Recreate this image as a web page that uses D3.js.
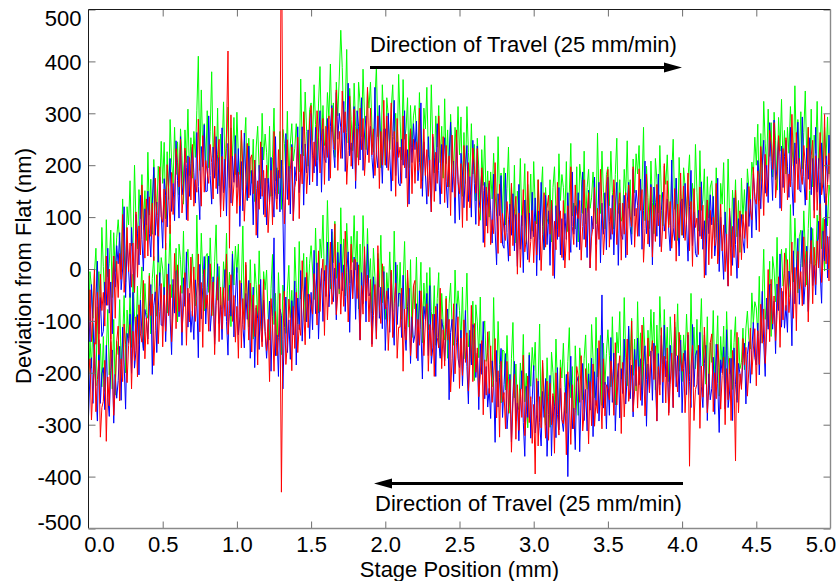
<!DOCTYPE html>
<html>
<head>
<meta charset="utf-8">
<script src="https://cdn.jsdelivr.net/npm/d3@7"></script>
<style>
  body { margin: 0; background: #fff; }
  svg text { font-family: "Liberation Sans", Arial, Helvetica, sans-serif; fill: #000; }
</style>
</head>
<body>
<svg id="chart" width="838" height="581"></svg>
<script>
// Surface profile scans: deviation from flat (nm), one sample every 0.01 mm of stage travel.
const sampleStep = 0.01;

const xTickMarks = [0.5, 1.0, 1.5, 2.0, 2.5, 3.0, 3.5, 4.0, 4.5];
const xTickLabels = [0.0, 0.5, 1.0, 1.5, 2.0, 2.5, 3.0, 3.5, 4.0, 4.5, 5.0];
const yTicks = [-500, -400, -300, -200, -100, 0, 100, 200, 300, 400, 500];

const xTitle = "Stage Position (mm)";
const yTitle = "Deviation from Flat (nm)";
const travelLabel = "Direction of Travel (25 mm/min)";

// Forward pass (upper traces), one row per 0.1 mm
const upperBlue = [
  -70,-140,-30,-105,-170,-60,15,-125,-55,-130,
  -120,-25,-70,40,-85,-25,-125,25,-35,45,
  10,70,-40,0,120,-55,55,0,-55,80,
  10,-45,105,69,8,142,57,-4,116,85,
  150,69,23,127,196,65,129,13,177,106,
  40,174,142,81,164,213,111,165,93,247,
  170,98,255,143,165,228,95,218,140,203,
  235,186,127,263,159,95,236,197,278,149,
  150,295,180,125,235,175,255,145,215,115,
  272,147,212,102,242,172,127,217,167,257,
  157,232,82,207,112,262,177,132,237,142,
  190,85,210,155,60,200,135,235,105,175,
  85,175,125,215,140,100,255,135,190,110,
  210,104,-60,261,134,198,106,240,93,197,
  170,274,147,191,274,123,241,185,268,162,
  300,218,185,273,160,253,305,148,270,213,
  205,290,170,275,315,230,195,340,250,300,
  273,213,323,188,263,358,218,243,193,313,
  155,305,275,210,330,190,260,295,220,240,
  275,215,175,350,220,195,315,235,165,270,
  270,195,300,220,150,255,325,180,245,165,
  160,250,200,305,175,230,125,270,205,280,
  230,285,170,205,320,140,245,185,125,255,
  170,110,255,215,150,280,190,125,240,205,
  253,168,118,218,283,148,208,88,248,173,
  95,223,185,118,195,238,130,178,100,248,
  165,86,237,118,134,190,51,167,83,139,
  165,112,50,183,75,8,145,103,180,47,
  40,185,70,15,125,65,145,35,105,5,
  163,38,103,-7,133,63,18,108,58,148,
  62,137,-13,112,17,167,82,37,142,47,
  112,7,132,77,-18,122,57,157,27,97,
  17,107,57,147,72,32,187,67,122,42,
  147,37,107,187,57,117,22,152,2,102,
  77,177,47,87,167,12,127,67,147,37,
  177,92,57,142,27,117,167,7,127,67,
  57,142,22,127,167,82,47,192,102,152,
  123,63,173,38,113,208,68,93,43,163,
  8,158,128,63,183,43,113,148,73,93,
  135,75,35,210,80,55,175,95,25,130,
  135,60,165,85,15,120,190,45,110,30,
  23,113,63,168,38,93,-12,133,68,143,
  85,140,25,60,175,-5,100,40,-20,110,
  27,-33,112,72,7,137,47,-18,97,62,
  105,56,31,111,166,82,134,60,182,140,
  75,209,177,116,199,248,146,200,128,282,
  207,132,287,172,192,252,117,237,157,217,
  248,198,138,273,168,103,243,203,283,153,
  148,293,178,123,233,173,253,143,213,113,
  273,148,213,103,243,173,128,218,168,258,
  200
];

const upperRed = [
  -140,-40,-140,-90,0,-145,-45,-165,-10,-80,
  -45,-110,25,-70,0,-135,-35,25,-95,15,
  -55,30,-20,105,-45,0,80,-5,50,-35,
  50,-45,110,-16,83,27,162,86,21,135,
  25,139,63,127,16,175,99,63,197,101,
  90,154,37,201,154,68,186,105,143,232,
  205,158,250,108,145,233,195,93,215,133,
  240,121,172,148,289,195,121,257,148,209,
  185,165,240,205,135,275,155,220,250,100,
  217,112,182,262,420,40,297,122,162,222,
  107,187,122,267,197,92,162,242,137,212,
  220,145,210,65,170,115,245,140,190,100,
  200,70,130,190,85,265,150,115,230,175,
  700,199,87,156,249,123,191,235,93,157,
  175,254,97,221,164,303,241,145,198,287,
  315,168,245,198,305,263,185,253,290,163,
  275,215,295,175,310,250,230,345,190,265,
  213,343,263,303,163,228,333,198,258,308,
  170,270,200,310,230,290,180,235,350,205,
  310,220,270,180,225,295,155,265,200,325,
  200,295,190,235,320,170,265,140,290,215,
  235,165,295,195,260,120,215,270,145,250,
  165,245,190,310,155,195,270,180,230,140,
  210,110,260,130,225,165,295,215,145,255,
  128,238,158,218,103,258,178,138,268,168,
  145,203,80,238,185,93,205,118,150,233,
  200,146,232,83,114,195,151,42,158,69,
  170,47,95,68,205,108,30,163,50,107,
  75,55,130,95,25,165,45,110,140,-10,
  108,3,73,153,33,58,188,13,53,113,
  12,92,27,172,102,-3,67,147,42,117,
  142,67,132,-13,92,37,167,62,112,22,
  132,2,62,122,17,197,82,47,162,107,
  97,132,17,82,172,42,107,147,2,62,
  82,157,-3,117,57,192,127,27,77,162,
  192,42,117,67,172,127,47,112,147,17,
  127,67,147,27,162,102,82,197,42,117,
  63,193,113,153,13,78,183,48,108,158,
  23,123,53,163,83,143,33,88,203,58,
  170,80,130,40,85,155,15,125,60,185,
  65,160,55,100,185,35,130,5,155,80,
  98,28,158,58,123,-17,78,133,8,113,
  20,100,45,165,10,50,125,35,85,-5,
  67,-33,117,-13,82,22,152,72,2,112,
  18,105,59,111,40,159,113,95,196,136,
  125,189,72,236,189,103,221,140,178,267,
  242,192,282,137,172,257,217,112,232,147,
  253,133,183,158,298,203,128,263,153,213,
  183,163,238,203,133,273,153,218,248,98,
  218,113,183,263,143,168,298,123,163,223,
  160
];

const upperGreen = [
  -140,-5,-35,-95,-10,40,-60,-5,-75,80,
  5,-65,95,-15,10,75,-55,70,-5,60,
  95,50,-5,135,35,-25,120,85,170,45,
  50,200,90,39,153,97,182,76,151,55,
  225,104,173,67,211,145,104,198,152,246,
  165,244,97,226,134,288,206,165,273,182,
  245,143,270,218,125,268,205,308,180,253,
  175,265,215,305,410,190,345,225,280,200,
  305,195,265,380,215,275,180,310,160,260,
  222,322,192,232,312,157,272,212,292,182,
  302,217,182,267,152,242,292,132,252,192,
  165,250,130,235,275,190,155,300,210,260,
  225,165,275,140,215,310,170,195,145,265,
  115,269,242,181,304,168,241,280,208,232,
  280,224,187,366,239,218,341,265,198,307,
  320,248,355,278,210,318,390,248,315,238,
  250,340,290,395,265,320,215,360,295,370,
  460,388,273,308,423,243,348,288,228,358,
  275,215,360,320,255,385,295,230,345,310,
  360,275,225,325,390,255,315,195,355,280,
  200,330,295,230,310,355,250,300,225,375,
  285,210,365,250,270,330,195,315,235,295,
  315,265,205,340,235,170,310,270,350,220,
  210,355,240,185,295,235,315,205,275,175,
  328,203,268,158,298,228,183,273,223,313,
  220,293,140,263,165,313,225,178,280,183,
  240,131,252,193,94,230,161,257,123,189,
  100,187,135,223,145,103,255,133,185,102,
  195,85,155,235,105,165,70,200,50,150,
  113,213,83,123,203,48,163,103,183,73,
  207,122,87,172,57,147,197,37,157,97,
  87,172,52,157,197,112,77,222,132,182,
  157,97,207,72,147,242,102,127,77,197,
  52,202,172,107,227,87,157,192,117,137,
  187,127,87,262,132,107,227,147,77,182,
  197,122,227,147,77,182,252,107,172,92,
  102,192,142,247,117,172,67,212,147,222,
  183,238,123,158,273,93,198,138,78,208,
  128,68,213,173,108,238,148,83,198,163,
  220,135,85,185,250,115,175,55,215,140,
  65,195,160,95,175,220,115,165,90,240,
  148,73,228,113,133,193,58,178,98,158,
  170,120,60,195,90,25,165,125,205,75,
  67,212,97,42,152,92,172,62,132,32,
  175,97,153,85,193,155,133,206,181,254,
  200,279,132,261,169,323,241,200,308,217,
  282,177,302,247,152,292,227,327,197,267,
  183,273,223,313,238,198,353,233,288,208,
  303,193,263,343,213,273,178,308,158,258,
  223,323,193,233,313,158,273,213,293,183,
  300
];

// Return pass (lower traces), one row per 0.1 mm
const lowerBlue = [
  -285,-203,-171,-259,-147,-240,-293,-136,-259,-202,
  -190,-271,-147,-248,-284,-195,-156,-297,-203,-249,
  -215,-149,-253,-112,-181,-270,-124,-143,-87,-201,
  -45,-191,-157,-88,-204,-60,-126,-157,-78,-94,
  -135,-73,-30,-203,-71,-44,-161,-79,-7,-108,
  -110,-35,-140,-60,10,-95,-165,-20,-85,-5,
  -2,-92,-42,-147,-17,-72,33,-112,-47,-122,
  -81,-136,-21,-56,-171,9,-96,-36,24,-106,
  -35,25,-120,-80,-15,-145,-55,10,-105,-70,
  -136,-51,-1,-101,-166,-31,-91,29,-131,-56,
  3,-127,-92,-27,-107,-152,-47,-97,-22,-172,
  -110,-35,-190,-75,-95,-155,-20,-140,-60,-120,
  -172,-122,-62,-197,-92,60,-167,-127,-207,-77,
  -90,-231,-113,-54,-161,-98,-174,-61,-127,-23,
  -185,-56,-117,-3,-139,-65,-16,-102,-48,-134,
  -45,-117,36,-86,12,-135,-47,1,-101,-3,
  -53,52,-73,-18,77,-63,2,-98,32,-38,
  48,-42,8,-82,-7,33,-122,-2,-57,23,
  -97,13,-57,-137,-7,-67,28,-102,48,-52,
  -45,-145,-15,-55,-135,20,-95,-35,-115,-5,
  -157,-72,-37,-122,-7,-97,-147,13,-107,-47,
  -47,-132,-12,-117,-157,-72,-37,-182,-92,-142,
  -127,-67,-177,-42,-117,-212,-72,-97,-47,-167,
  -32,-182,-152,-87,-207,-67,-137,-172,-97,-117,
  -177,-117,-77,-252,-122,-97,-217,-137,-67,-172,
  -190,-118,-225,-148,-80,-188,-260,-118,-185,-107,
  -115,-209,-162,-271,-144,-203,-101,-250,-188,-266,
  -230,-288,-177,-215,-334,-157,-266,-209,-153,-286,
  -223,-163,-308,-268,-203,-333,-243,-178,-293,-258,
  -331,-246,-196,-296,-361,-226,-286,-166,-326,-251,
  -186,-316,-281,-216,-296,-341,-236,-286,-211,-361,
  -280,-205,-360,-245,-265,-325,-190,-310,-230,-290,
  -313,-263,-203,-400,-233,-168,-308,-268,-348,-218,
  -207,-352,-237,-182,-292,-232,-312,-202,-272,-172,
  -323,-198,-263,-153,-293,-223,-50,-268,-218,-308,
  -207,-282,-132,-257,-162,-312,-227,-182,-287,-192,
  -240,-135,-260,-205,-110,-250,-185,-285,-155,-225,
  -133,-223,-173,-263,-188,-148,-303,-183,-238,-158,
  -253,-143,-213,-293,-163,-223,-128,-258,-108,-208,
  -177,-277,-147,-187,-267,-112,-227,-167,-247,-137,
  -277,-192,-157,-242,-127,-217,-267,-107,-227,-167,
  -157,-242,-122,-227,-267,-182,-147,-292,-202,-252,
  -230,-170,-280,-145,-220,-315,-175,-200,-150,-270,
  -117,-267,-237,-172,-292,-152,-222,-257,-182,-202,
  -225,-176,-143,-260,-164,-140,-220,-157,-103,-171,
  -185,-104,-204,-118,-43,-142,-207,-56,-116,-30,
  -30,-116,-62,-163,-29,-80,29,-112,-43,-114,
  -70,-122,-4,-36,-148,35,-67,-4,59,-68,
  10,74,-68,-24,44,-82,11,80,-32,7,
  -50,39,92,-4,-66,73,16,140,-17,62,
  60
];

const lowerRed = [
  -205,-173,-291,-229,-142,-275,-213,-176,-324,-267,
  -255,-176,-332,-208,-264,-125,-186,-282,-228,-139,
  -110,-254,-173,-217,-106,-145,-219,-148,-107,-231,
  -120,-176,-92,-208,-69,-125,-141,-22,-173,-94,
  -145,-13,-90,-48,-186,-119,-11,-144,-82,-28,
  -150,-50,-120,-10,-90,-30,-140,-85,30,-115,
  8,-82,-32,-122,-77,-7,-147,-37,-102,23,
  -91,4,-101,-56,29,-121,-26,-151,-1,-76,
  -50,-120,10,-90,-25,-165,-70,-15,-140,-35,
  -116,-36,-91,29,-126,-86,-11,-101,-51,-141,
  -72,-172,-22,-152,-57,-117,13,-67,-137,-27,
  -160,-50,-130,-70,-185,-30,-110,-150,-20,-120,
  -157,-97,-217,-57,-107,-197,-82,-167,-132,-47,
  -430,-136,-43,-184,-146,-58,-94,-196,-72,-153,
  -45,-161,-107,-128,16,-75,-146,-7,-113,-49,
  -70,-87,-9,-41,-108,35,-82,-14,19,-128,
  7,-98,-28,52,-68,-43,87,-88,-48,12,
  -87,-7,-72,73,3,-102,-32,48,-57,18,
  18,-57,8,-137,-32,-87,43,-62,-12,-102,
  -20,-150,-90,-30,-135,45,-70,-105,10,-45,
  -77,-42,-157,-92,-2,-132,-67,-27,-172,-112,
  -112,-37,-197,-77,-137,-2,-67,-167,-117,-32,
  -22,-172,-97,-147,-42,-87,-167,-102,-67,-197,
  -107,-167,-87,-207,-72,-132,-152,-37,-192,-117,
  -187,-57,-137,-97,-237,-172,-67,-202,-142,-92,
  -230,-133,-205,-98,-180,-123,-235,-183,-70,-217,
  -105,-199,-152,-246,-204,-138,-281,-175,-243,-121,
  -240,-148,-257,-215,-134,-287,-196,-324,-178,-256,
  -238,-308,-178,-278,-213,-353,-258,-203,-328,-223,
  -311,-231,-286,-166,-321,-281,-206,-296,-246,-336,
  -261,-395,-211,-341,-246,-306,-176,-256,-326,-216,
  -330,-220,-300,-240,-355,-200,-280,-320,-190,-290,
  -298,-238,-358,-198,-248,-338,-223,-308,-273,-188,
  -207,-257,-167,-312,-277,-192,-232,-337,-217,-302,
  -183,-303,-253,-278,-138,-233,-308,-173,-283,-223,
  -232,-252,-177,-212,-282,-142,-262,-197,-167,-317,
  -180,-285,-215,-135,-255,-230,-100,-275,-235,-175,
  -268,-188,-253,-108,-178,-283,-213,-133,-238,-163,
  -138,-213,-148,-293,-188,-243,-113,-218,-168,-258,
  -152,-282,-222,-162,-267,-87,-202,-237,-122,-177,
  -197,-162,-277,-212,-122,-380,-187,-147,-292,-232,
  -222,-147,-307,-187,-247,-112,-177,-277,-227,-142,
  -125,-275,-200,-250,-145,-190,-270,-205,-170,-300,
  -192,-252,-172,-292,-157,-217,-370,-122,-277,-202,
  -232,-134,-185,-151,-245,-193,-114,-203,-156,-115,
  -225,-119,-184,-68,-143,-77,-182,-121,-1,-140,
  -20,-106,-52,-138,-89,-15,-151,-37,-98,31,
  -80,18,-84,-36,52,-95,3,-119,34,-38,
  -5,-71,62,-34,34,-102,-4,55,-67,42,
  -30,54,2,126,-26,18,96,10,63,-23,
  120
];

const lowerGreen = [
  -225,-138,-191,-104,-182,-225,-73,-196,-144,-227,
  -130,-236,-162,-78,-204,-140,-231,-97,-243,-139,
  -165,-59,-183,-137,-51,-200,-79,-133,-47,-151,
  -10,-91,-122,-33,-144,-50,4,-152,-28,-84,
  -95,-8,-125,-18,24,-59,-91,56,-32,22,
  0,-60,50,-85,-10,85,-55,-30,-80,40,
  -102,48,18,-47,73,-67,3,38,-37,-17,
  29,-31,-71,104,-26,-51,69,-11,-81,24,
  30,-45,60,-20,-90,15,85,-60,5,-75,
  -76,14,-36,69,-61,-6,-111,34,-31,44,
  -7,48,-67,-32,83,-97,8,-52,-112,18,
  -75,-135,10,-30,-95,35,-55,-120,-5,-40,
  -2,-87,-137,-37,28,-107,-47,-167,-7,-82,
  -165,-31,-63,-124,-41,7,-94,-41,-112,42,
  -35,-106,53,-58,-34,30,-101,23,-53,11,
  45,-2,-59,79,-23,-85,58,21,104,-23,
  -13,132,17,-38,72,12,92,-18,52,-48,
  118,-7,58,-52,88,18,-27,63,13,103,
  -2,73,-77,48,-47,103,18,-27,78,-17,
  20,-85,40,-15,-110,30,-35,65,-65,5,
  -97,-7,-57,33,-42,-82,73,-47,8,-72,
  13,-97,-27,53,-77,-17,-112,18,-132,-32,
  -77,23,-107,-67,13,-142,-27,-87,-7,-117,
  3,-82,-117,-32,-147,-57,-7,-167,-47,-107,
  -137,-52,-172,-67,-27,-112,-147,-2,-92,-42,
  -80,-143,-35,-173,-100,-8,-150,-128,-180,-62,
  -215,-69,-102,-171,-54,-198,-131,-100,-178,-161,
  -120,-183,-227,-55,-189,-217,-101,-184,-258,-156,
  -158,-233,-128,-208,-278,-173,-103,-248,-183,-263,
  -271,-181,-231,-126,-256,-201,-306,-161,-226,-151,
  -196,-141,-256,-221,-106,-286,-181,-241,-301,-171,
  -245,-305,-160,-200,-265,-135,-225,-290,-175,-210,
  -143,-228,-278,-178,-113,-248,-188,-308,-148,-223,
  -282,-152,-187,-252,-172,-127,-232,-182,-257,-107,
  -173,-248,-93,-208,-188,-128,-263,-143,-223,-163,
  -117,-167,-227,-92,-197,-262,-122,-162,-82,-212,
  -200,-55,-170,-225,-115,-175,-95,-205,-135,-235,
  -63,-188,-123,-233,-93,-163,-208,-118,-168,-78,
  -158,-83,-233,-108,-203,-53,-138,-183,-78,-173,
  -112,-217,-92,-147,-242,-102,-167,-67,-197,-127,
  -217,-127,-177,-87,-162,-202,-47,-167,-112,-192,
  -97,-207,-137,-57,-187,-127,-222,-92,-242,-142,
  -180,-80,-210,-170,-90,-245,-130,-190,-110,-220,
  -82,-167,-202,-117,-232,-142,-92,-252,-132,-192,
  -180,-114,-194,-114,-81,-135,-154,-46,-105,-63,
  -75,-129,-14,-143,-63,38,-97,-66,-111,15,
  -130,24,-2,-63,61,-75,-1,38,-33,-9,
  40,-17,-54,124,-3,-25,98,21,-46,62,
  75,4,112,36,-31,78,151,10,78,2,
  10,104,57,166,39,98,-4,145,83,162,
  140
];

// Plot order: green under blue under red
const traces = [
  { values: upperGreen, color: "#00ff00" },
  { values: lowerGreen, color: "#00ff00" },
  { values: upperBlue,  color: "#0000ff" },
  { values: lowerBlue,  color: "#0000ff" },
  { values: upperRed,   color: "#ff0000" },
  { values: lowerRed,   color: "#ff0000" }
];

const svg = d3.select("#chart");
svg.append("rect").attr("width", 838).attr("height", 581).attr("fill", "#fff");

const plot = { left: 88.5, right: 830.5, top: 9.5, bottom: 528.5 };
const x = d3.scaleLinear().domain([0, 5]).range([plot.left, plot.right]);
const y = d3.scaleLinear().domain([-500, 500]).range([plot.bottom, plot.top]);
const fontSize = 22;

svg.append("clipPath").attr("id", "plot-clip")
  .append("rect")
  .attr("x", plot.left).attr("y", plot.top)
  .attr("width", plot.right - plot.left).attr("height", plot.bottom - plot.top);

// Profile traces
const line = d3.line()
  .x((d, i) => x(i * sampleStep))
  .y(d => y(d));

svg.append("g").attr("clip-path", "url(#plot-clip)")
  .selectAll("path").data(traces).join("path")
  .attr("d", d => line(d.values))
  .attr("fill", "none")
  .attr("stroke", d => d.color)
  .attr("stroke-width", 1)
  .attr("stroke-linejoin", "miter")
  .attr("stroke-miterlimit", 1);

// Inward tick marks on all four sides
function tickMarks(axis, tx, ty) {
  const g = svg.append("g").attr("transform", `translate(${tx},${ty})`).call(axis);
  g.select(".domain").remove();
  g.selectAll("line").attr("stroke", "#6e6e6e").attr("stroke-width", 1);
  g.selectAll("text").remove();
}
tickMarks(d3.axisBottom(x).tickValues(xTickMarks).tickSize(-7), 0, plot.bottom);
tickMarks(d3.axisTop(x).tickValues(xTickMarks).tickSize(-7), 0, plot.top);
tickMarks(d3.axisLeft(y).tickValues(yTicks).tickSize(-7), plot.left, 0);
tickMarks(d3.axisRight(y).tickValues(yTicks).tickSize(-7), plot.right, 0);

// Axes box
const box = svg.append("g").attr("fill", "none");
box.append("line").attr("x1", plot.left).attr("x2", plot.right).attr("y1", plot.top).attr("y2", plot.top).attr("stroke", "#1a1a1a");
box.append("line").attr("x1", plot.left).attr("x2", plot.left).attr("y1", plot.top).attr("y2", plot.bottom).attr("stroke", "#1a1a1a");
box.append("line").attr("x1", plot.left).attr("x2", plot.right).attr("y1", plot.bottom).attr("y2", plot.bottom).attr("stroke", "#8a8a8a").attr("stroke-width", 1.4);
box.append("line").attr("x1", plot.right).attr("x2", plot.right).attr("y1", plot.top).attr("y2", plot.bottom).attr("stroke", "#8a8a8a").attr("stroke-width", 1.4);

// Tick labels; the end labels are pulled in from the figure edges
const xLabels = svg.append("g").attr("transform", `translate(0,${plot.bottom})`)
  .call(d3.axisBottom(x).tickValues(xTickLabels).tickSize(0).tickPadding(8).tickFormat(d3.format(".1f")));
xLabels.select(".domain").remove();
xLabels.attr("font-size", fontSize).attr("font-family", null);
xLabels.selectAll(".tick text")
  .attr("fill", "#000")
  .attr("dx", d => d === 0 ? 10.5 : d === 5 ? -10 : 0);

const yLabels = svg.append("g").attr("transform", `translate(${plot.left},0)`)
  .call(d3.axisLeft(y).tickValues(yTicks).tickSize(0).tickPadding(7).tickFormat(d => String(d)));
yLabels.select(".domain").remove();
yLabels.attr("font-size", fontSize).attr("font-family", null);
yLabels.selectAll(".tick text")
  .attr("fill", "#000")
  .attr("dy", d => d === 500 ? "0.72em" : d === -500 ? "0.05em" : "0.35em");

// Axis titles
svg.append("text")
  .attr("x", (plot.left + plot.right) / 2).attr("y", 577)
  .attr("text-anchor", "middle").attr("font-size", fontSize)
  .text(xTitle);

svg.append("text")
  .attr("transform", `translate(31,266) rotate(-90)`)
  .attr("text-anchor", "middle").attr("font-size", fontSize)
  .text(yTitle);

// Travel direction annotations
function arrow(x0, x1, yy) {
  const dir = Math.sign(x1 - x0);
  const headLen = 18, headHalf = 5;
  svg.append("line")
    .attr("x1", x0).attr("x2", x1 - dir * headLen + dir * 2)
    .attr("y1", yy).attr("y2", yy)
    .attr("stroke", "#000").attr("stroke-width", 3);
  svg.append("path")
    .attr("d", `M${x1},${yy} L${x1 - dir * headLen},${yy - headHalf} L${x1 - dir * headLen},${yy + headHalf} Z`)
    .attr("fill", "#000");
}

svg.append("text").attr("x", 370).attr("y", 52).attr("font-size", fontSize).text(travelLabel);
arrow(370, 682, 67.5);

arrow(683, 374, 483.5);
svg.append("text").attr("x", 375).attr("y", 511).attr("font-size", fontSize).text(travelLabel);
</script>
</body>
</html>
